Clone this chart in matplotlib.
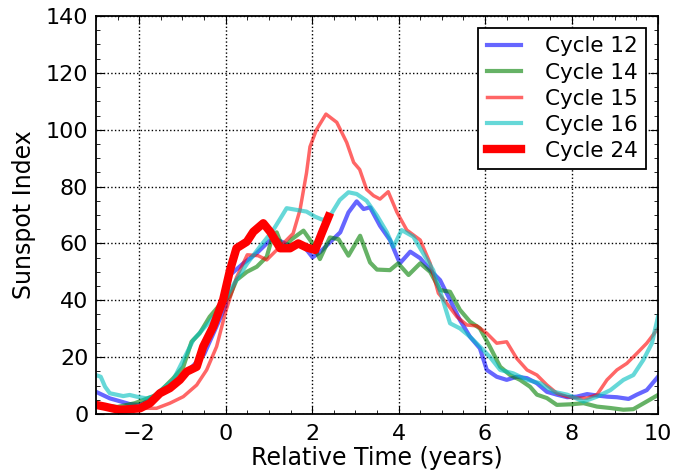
import numpy as np
import matplotlib as mpl
mpl.use("Agg")
import matplotlib.pyplot as plt

mpl.rcParams.update({
    "font.family": "DejaVu Sans",
    "font.size": 16,
    "xtick.direction": "in",
    "ytick.direction": "in",
    "xtick.top": True,
    "ytick.right": True,
    "xtick.major.size": 6,
    "ytick.major.size": 6,
    "xtick.minor.size": 3,
    "ytick.minor.size": 3,
    "xtick.major.pad": 7,
    "ytick.major.pad": 5.5,
    "axes.linewidth": 1.3,
})

# cycle 12 (blue)
t12 = [-3.0, -2.68, -2.22, -1.98, -1.5, -1.0, -0.5, 0.0, 0.1, 0.41, 0.72, 0.95, 1.1,
       1.49, 1.8, 2.01, 2.18, 2.41, 2.65, 2.84, 3.03, 3.19, 3.34, 3.57, 3.8, 4.03, 4.27,
       4.5, 4.73, 4.96, 5.19, 5.42, 5.65, 5.88, 6.04, 6.27, 6.5, 6.73, 6.97, 7.2, 7.43,
       7.66, 7.9, 8.12, 8.36, 8.59, 8.82, 9.05, 9.32, 9.51, 9.74, 10.0]
v12 = [7.8, 5.5, 3.5, 3.2, 7.0, 13.0, 21.0, 38.0, 48.9, 53.0, 56.6, 60.0, 62.0,
       59.2, 59.2, 55.1, 56.9, 60.4, 63.9, 70.9, 74.8, 72.1, 72.7, 66.2, 61.2, 53.0, 57.1,
       54.8, 50.6, 47.1, 40.1, 33.0, 27.2, 23.1, 15.5, 13.1, 12.0, 13.1, 12.6, 10.8, 7.8,
       6.8, 5.9, 6.1, 7.0, 6.5, 6.1, 5.9, 5.3, 6.8, 8.4, 13.1]

# cycle 14 (green)
t14 = [-3.0, -2.5, -2.1, -1.6, -1.21, -0.98, -0.79, -0.6, -0.37, -0.14, 0.09, 0.25,
       0.49, 0.72, 0.95, 1.06, 1.18, 1.33, 1.53, 1.8, 1.99, 2.18, 2.41, 2.61, 2.84,
       3.11, 3.34, 3.5, 3.8, 3.99, 4.23, 4.5, 4.73, 4.96, 5.19, 5.42, 5.65, 5.88, 6.11,
       6.35, 6.58, 6.81, 7.04, 7.2, 7.43, 7.66, 7.97, 8.28, 8.59, 8.9, 9.2, 9.43, 9.74, 10.0]
v14 = [3.0, 2.5, 3.8, 6.7, 12.6, 16.6, 25.4, 28.4, 34.2, 38.3, 41.3, 47.1,
       50.0, 51.8, 55.3, 61.2, 63.9, 58.0, 61.5, 64.5, 60.4, 54.5, 62.1, 61.5, 55.7,
       62.7, 53.3, 50.8, 50.6, 53.0, 48.9, 53.0, 50.0, 43.6, 43.0, 36.6, 32.5, 30.1, 23.7,
       16.6, 13.7, 12.0, 9.6, 6.8, 5.6, 3.2, 3.4, 3.8, 2.6, 2.1, 1.5, 1.7, 4.4, 6.7]

# cycle 15 (red, thin)
t15 = [-3.0, -2.5, -2.0, -1.6, -1.29, -0.98, -0.67, -0.44, -0.21, 0.0, 0.25, 0.5,
       0.75, 0.95, 1.26, 1.56, 1.72, 1.87, 1.95, 2.1, 2.32, 2.57, 2.8, 2.96, 3.1, 3.26,
       3.42, 3.57, 3.76, 3.96, 4.19, 4.5, 4.73, 4.92, 5.11, 5.35, 5.58, 5.81, 6.04,
       6.27, 6.5, 6.73, 6.97, 7.2, 7.43, 7.66, 7.9, 8.12, 8.36, 8.59, 8.82, 9.05, 9.28,
       9.51, 9.74, 10.0]
v15 = [3.0, 2.5, 2.0, 2.0, 3.8, 6.1, 10.2, 15.5, 23.7, 36.0, 48.0, 56.0,
       55.7, 54.2, 58.9, 63.5, 71.8, 84.8, 94.0, 100.0, 105.5, 102.6, 95.5, 88.5, 86.0, 79.0,
       76.8, 75.6, 78.2, 71.0, 64.7, 61.2, 53.0, 42.5, 39.0, 34.2, 31.3, 31.0, 28.4,
       24.9, 25.4, 19.6, 15.5, 13.7, 10.2, 7.3, 6.1, 5.6, 5.6, 6.8, 12.0, 15.5, 17.8,
       21.3, 24.9, 30.1]

# cycle 16 (cyan)
t16 = [-3.0, -2.89, -2.79, -2.68, -2.37, -2.22, -2.06, -1.83, -1.68, -1.21, -0.75,
       -0.4, -0.13, 0.2, 0.5, 0.8, 1.1, 1.29, 1.41, 1.64, 1.87, 2.07, 2.26, 2.45, 2.64,
       2.84, 3.03, 3.26, 3.5, 3.73, 3.88, 4.07, 4.34, 4.57, 4.8, 5.0, 5.19, 5.42, 5.65,
       5.88, 6.11, 6.35, 6.65, 6.97, 7.28, 7.59, 7.9, 8.28, 8.59, 8.9, 9.2, 9.43, 9.66,
       9.86, 10.0]
v16 = [13.7, 13.1, 9.6, 7.3, 6.3, 6.7, 6.1, 5.5, 6.1, 12.0, 26.0,
       32.0, 37.0, 46.0, 53.0, 59.0, 64.7, 69.4, 72.4, 71.8, 71.2, 69.4, 68.2, 70.6, 75.3,
       78.0, 77.4, 75.0, 69.8, 63.9, 58.8, 64.7, 62.4, 56.5, 50.6, 41.3, 31.9, 30.1, 27.2,
       23.7, 20.1, 15.5, 14.3, 12.0, 10.8, 7.8, 6.8, 4.4, 6.1, 8.4, 12.0, 13.7, 19.0,
       24.9, 34.2]

# cycle 24 (red, thick)
t24 = [-3.0, -2.8, -2.45, -1.98, -1.75, -1.52, -1.29, -1.06, -0.9, -0.67, -0.52, -0.29,
       -0.06, 0.1, 0.25, 0.49, 0.64, 0.87, 1.03, 1.26, 1.49, 1.68, 1.87, 2.07, 2.22, 2.38]
v24 = [3.2, 2.6, 1.4, 2.0, 3.8, 7.3, 9.1, 12.0, 14.9, 16.6, 23.7, 30.7,
       40.1, 50.6, 58.3, 60.6, 64.1, 67.1, 64.1, 58.3, 58.3, 60.0, 58.6, 57.7, 63.5, 69.4]

fig = plt.figure(figsize=(6.73, 4.74), dpi=100)
ax = fig.add_axes([0.1426, 0.1266, 0.8351, 0.8396])

ax.plot(t12, v12, color='b', lw=3, alpha=0.6, label='Cycle 12')
ax.plot(t14, v14, color='g', lw=3, alpha=0.6, label='Cycle 14')
ax.plot(t15, v15, color='r', lw=2.5, alpha=0.6, label='Cycle 15')
ax.plot(t16, v16, color='c', lw=3, alpha=0.6, label='Cycle 16')
ax.plot(t24, v24, color='r', lw=6, label='Cycle 24')

ax.set_xlim(-3, 10)
ax.set_ylim(0, 140)
ax.set_xticks(np.arange(-2, 11, 2))
ax.set_xticks(np.arange(-3, 10.01, 0.5), minor=True)
ax.set_yticks(np.arange(0, 141, 20))
ax.set_yticks(np.arange(0, 141, 5), minor=True)
ax.xaxis.set_major_formatter(mpl.ticker.FuncFormatter(
    lambda x, pos: ('\u2212%d' % -x) if x < 0 else '%d' % x))
ax.grid(True, which='major', linestyle=':', color='k', lw=1)

ax.set_xlabel('Relative Time (years)', labelpad=2, fontsize=17)
ax.set_ylabel('Sunspot Index', labelpad=7, fontsize=17)

leg = ax.legend(loc='upper right', fancybox=False, framealpha=1,
                edgecolor='k', handlelength=1.6, borderpad=0.4,
                labelspacing=0.28, handletextpad=1.1, borderaxespad=0.55,
                fontsize=15.5)
leg.get_frame().set_linewidth(1.3)

fig.savefig('out.png', dpi=100)
